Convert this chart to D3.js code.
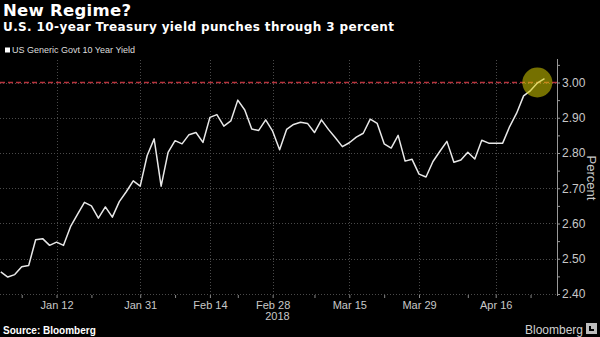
<!DOCTYPE html>
<html><head><meta charset="utf-8">
<script src="https://cdn.jsdelivr.net/npm/d3@7"></script>
<style>body{margin:0;background:#000;}svg{display:block;}</style>
</head><body>
<svg id="c" width="600" height="337"></svg>
<script>
const dates = ["Jan 2","Jan 3","Jan 4","Jan 5","Jan 8","Jan 9","Jan 10","Jan 11","Jan 12","Jan 16","Jan 17","Jan 18","Jan 19","Jan 22","Jan 23","Jan 24","Jan 25","Jan 26","Jan 29","Jan 30","Jan 31",
"Feb 1","Feb 2","Feb 5","Feb 6","Feb 7","Feb 8","Feb 9","Feb 12","Feb 13","Feb 14","Feb 15","Feb 16","Feb 20","Feb 21","Feb 22","Feb 23","Feb 26","Feb 27","Feb 28",
"Mar 1","Mar 2","Mar 5","Mar 6","Mar 7","Mar 8","Mar 9","Mar 12","Mar 13","Mar 14","Mar 15","Mar 16","Mar 19","Mar 20","Mar 21","Mar 22","Mar 23","Mar 26","Mar 27","Mar 28","Mar 29",
"Apr 2","Apr 3","Apr 4","Apr 5","Apr 6","Apr 9","Apr 10","Apr 11","Apr 12","Apr 13","Apr 16","Apr 17","Apr 18","Apr 19","Apr 20","Apr 23","Apr 24","Apr 25"];
const yields = [2.463,2.448,2.455,2.477,2.481,2.554,2.557,2.538,2.547,2.538,2.591,2.626,2.660,2.650,2.615,2.647,2.618,2.662,2.690,2.721,2.706,
2.793,2.840,2.706,2.802,2.835,2.826,2.852,2.858,2.830,2.901,2.909,2.876,2.891,2.950,2.922,2.868,2.864,2.894,2.862,
2.809,2.867,2.881,2.887,2.884,2.858,2.894,2.867,2.843,2.818,2.829,2.845,2.856,2.896,2.884,2.826,2.814,2.850,2.777,2.782,2.740,
2.732,2.776,2.805,2.833,2.774,2.780,2.802,2.783,2.836,2.828,2.828,2.828,2.875,2.913,2.962,2.977,2.999,3.011];
const tickDates = ["Jan 12","Jan 31","Feb 14","Feb 28","Mar 15","Mar 29","Apr 16"];
const minorTickDates = ["Jan 5","Jan 22","Feb 7","Feb 21","Mar 8","Mar 22","Apr 10","Apr 23"];
const yTicks = [2.40,2.50,2.60,2.70,2.80,2.90,3.00];
const yMinorTicks = [2.45,2.55,2.65,2.75,2.85,2.95,3.05];
const threshold = 3.00;
const highlightDate = "Apr 24";
const title = "New Regime?";
const subtitle = "U.S. 10-year Treasury yield punches through 3 percent";
const seriesName = "US Generic Govt 10 Year Yield";
const yearLabel = "2018";
const source = "Source: Bloomberg";

const svg = d3.select("#c");
const W = 600, H = 337;
const plotTop = 60, plotBottom = 295, axisX = 557;
const x = d3.scalePoint().domain(dates).range([0.8, 544.5]);
const y = d3.scaleLinear().domain([2.40, 3.00]).range([294, 82.5]);

svg.append("rect").attr("width", W).attr("height", H).attr("fill", "#000");

// titles
svg.append("text").attr("x", 3).attr("y", 15.5).text(title)
  .attr("fill", "#fff").attr("font-family", "DejaVu Sans").attr("font-weight", "bold").attr("font-size", 16.5)
  .attr("textLength", 128).attr("lengthAdjust", "spacing");
svg.append("text").attr("x", 3).attr("y", 30.5).text(subtitle)
  .attr("fill", "#fff").attr("font-family", "DejaVu Sans").attr("font-weight", "bold").attr("font-size", 12)
  .attr("textLength", 391).attr("lengthAdjust", "spacing");
// legend
svg.append("rect").attr("x", 5).attr("y", 47.5).attr("width", 5).attr("height", 5).attr("fill", "#fff");
svg.append("text").attr("x", 12).attr("y", 53).text(seriesName)
  .attr("fill", "#ddd").attr("font-family", "Liberation Sans").attr("font-size", 9);

// grid
const grid = svg.append("g").attr("stroke", "#4a4a4a").attr("stroke-width", 1).attr("stroke-dasharray", "1,2");
grid.selectAll("line.h").data(yTicks).join("line")
  .attr("x1", 0).attr("x2", axisX).attr("y1", d => Math.round(y(d)) + 0.5).attr("y2", d => Math.round(y(d)) + 0.5);
grid.selectAll("line.v").data(tickDates).join("line")
  .attr("x1", d => Math.round(x(d)) + 0.5).attr("x2", d => Math.round(x(d)) + 0.5).attr("y1", plotTop).attr("y2", plotBottom);

// x axis
const xAxis = d3.axisBottom(x).tickValues(tickDates).tickSize(3).tickPadding(3);
const gx = svg.append("g").attr("transform", `translate(0,${plotBottom})`).call(xAxis);
gx.select(".domain").remove();
gx.selectAll("line").attr("stroke", "#888");
gx.selectAll("text").attr("fill", "#c8c8c8").attr("font-family", "Liberation Sans").attr("font-size", 11);
const gxm = svg.append("g").attr("transform", `translate(0,${plotBottom})`)
  .call(d3.axisBottom(x).tickValues(minorTickDates).tickSize(3).tickFormat(""));
gxm.select(".domain").remove();
gxm.selectAll("line").attr("stroke", "#888");
svg.append("text").attr("x", x("Feb 28") + 17).attr("y", 320).attr("text-anchor", "end").text(yearLabel)
  .attr("fill", "#c8c8c8").attr("font-family", "Liberation Sans").attr("font-size", 11);

// y axis (right)
const gy = svg.append("g").attr("transform", `translate(${axisX},0)`)
  .call(d3.axisRight(y).tickValues(yTicks).tickSize(3).tickPadding(2).tickFormat(d3.format(".2f")));
gy.select(".domain").remove();
gy.selectAll("line").attr("stroke", "#999");
gy.selectAll("text").attr("fill", "#c8c8c8").attr("font-family", "Liberation Sans").attr("font-size", 12);
const gym = svg.append("g").attr("transform", `translate(${axisX},0)`)
  .call(d3.axisRight(y).tickValues(yMinorTicks).tickSize(3).tickFormat(""));
gym.select(".domain").remove();
gym.selectAll("line").attr("stroke", "#999");
svg.append("line").attr("x1", axisX + 0.5).attr("x2", axisX + 0.5).attr("y1", plotTop - 1).attr("y2", plotBottom + 1)
  .attr("stroke", "#999").attr("stroke-width", 1);
svg.append("text").attr("transform", `translate(587,178) rotate(90)`).attr("text-anchor", "middle").text("Percent")
  .attr("fill", "#c8c8c8").attr("font-family", "Liberation Sans").attr("font-size", 13);

// threshold line
svg.append("line").attr("x1", 0).attr("x2", axisX).attr("y1", y(threshold)).attr("y2", y(threshold))
  .attr("stroke", "#b8333c").attr("stroke-width", 1.5).attr("stroke-dasharray", "5,3");

// series line
svg.append("path").datum(yields)
  .attr("d", d3.line().x((d, i) => x(dates[i])).y(d => y(d)))
  .attr("fill", "none").attr("stroke", "#e8e8e8").attr("stroke-width", 1.5).attr("stroke-linejoin", "round");

// highlight circle
svg.append("circle").attr("cx", x(highlightDate) - 0.2).attr("cy", y(threshold)).attr("r", 15)
  .attr("fill", "#d6cc00").attr("fill-opacity", 0.55);

// footer
svg.append("text").attr("x", 3).attr("y", 333.5).text(source)
  .attr("fill", "#fff").attr("font-family", "Liberation Sans").attr("font-weight", "bold").attr("font-size", 10);
svg.append("text").attr("x", 583).attr("y", 334).attr("text-anchor", "end").text("Bloomberg")
  .attr("fill", "#d0d0d0").attr("font-family", "Liberation Sans").attr("font-size", 12);
const logo = svg.append("g").attr("transform", "translate(586,323)");
logo.append("rect").attr("width", 11).attr("height", 11).attr("fill", "#bdbdbd");
logo.append("path").attr("d", "M3,8 L3,3 L5,3 L5,6 L8,6 L8,8 Z").attr("fill", "#000");
</script>
</body></html>
